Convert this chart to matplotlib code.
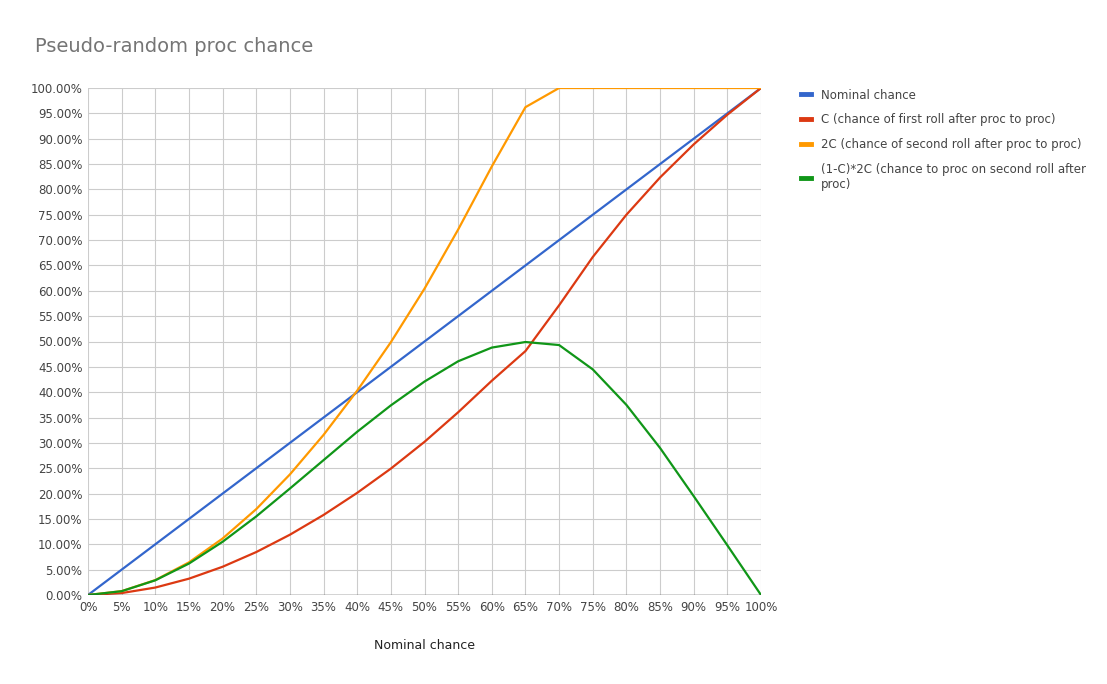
import matplotlib.pyplot as plt
from matplotlib.ticker import MultipleLocator, FuncFormatter

nominal = [0, 5, 10, 15, 20, 25, 30, 35, 40, 45, 50, 55, 60, 65, 70, 75, 80, 85, 90, 95, 100]
c_first = [0, 0.38, 1.47, 3.22, 5.57, 8.47, 11.89, 15.79, 20.15, 24.93, 30.21,
           36.04, 42.26, 48.11, 57.14, 66.66, 75.0, 82.35, 88.88, 94.73, 100]
c_second = [0, 0.76, 2.94, 6.44, 11.14, 16.94, 23.78, 31.58, 40.3, 49.86, 60.42,
            72.08, 84.52, 96.22, 100, 100, 100, 100, 100, 100, 100]
proc_second = [0, 0.75, 2.9, 6.2, 10.5, 15.5, 21.0, 26.6, 32.2, 37.4, 42.1,
               46.1, 48.8, 49.9, 49.3, 44.5, 37.5, 29.0, 19.5, 9.8, 0]

fig = plt.figure(figsize=(11.07, 6.84), dpi=100)
ax = fig.add_axes([88 / 1107, 1 - 595 / 684, 673 / 1107, 507 / 684])

ax.plot(nominal, nominal, color="#3366cc", lw=1.6, label="Nominal chance")
ax.plot(nominal, c_first, color="#dc3912", lw=1.6, label="C (chance of first roll after proc to proc)")
ax.plot(nominal, c_second, color="#ff9900", lw=1.6, label="2C (chance of second roll after proc to proc)")
ax.plot(nominal, proc_second, color="#109618", lw=1.6,
        label="(1-C)*2C (chance to proc on second roll after\nproc)")

ax.set_xlim(0, 100)
ax.set_ylim(0, 100)
ax.xaxis.set_major_locator(MultipleLocator(5))
ax.yaxis.set_major_locator(MultipleLocator(5))
ax.xaxis.set_major_formatter(FuncFormatter(lambda v, p: f"{v:.0f}%"))
ax.yaxis.set_major_formatter(FuncFormatter(lambda v, p: f"{v:.2f}%"))
ax.grid(color="#cccccc", lw=0.8)
ax.set_axisbelow(True)
for s in ax.spines.values():
    s.set_visible(False)
ax.axhline(0, color="#333333", lw=1)
ax.tick_params(length=0, labelsize=8.5, colors="#444444", pad=4)
ax.set_xlabel("Nominal chance", fontsize=9, color="#222222", labelpad=18)

fig.text(35 / 1107, 1 - 46 / 684, "Pseudo-random proc chance", fontsize=14,
         color="#757575", va="center")
leg = fig.legend(loc="upper left", bbox_to_anchor=(790 / 1107, 1 - 78 / 684),
                 frameon=False, fontsize=8.5, handlelength=0.9, labelspacing=1.0)
for t in leg.get_texts():
    t.set_color("#444444")
for h in leg.legend_handles:
    h.set_linewidth(3.5)

fig.savefig("out.png", dpi=100)
